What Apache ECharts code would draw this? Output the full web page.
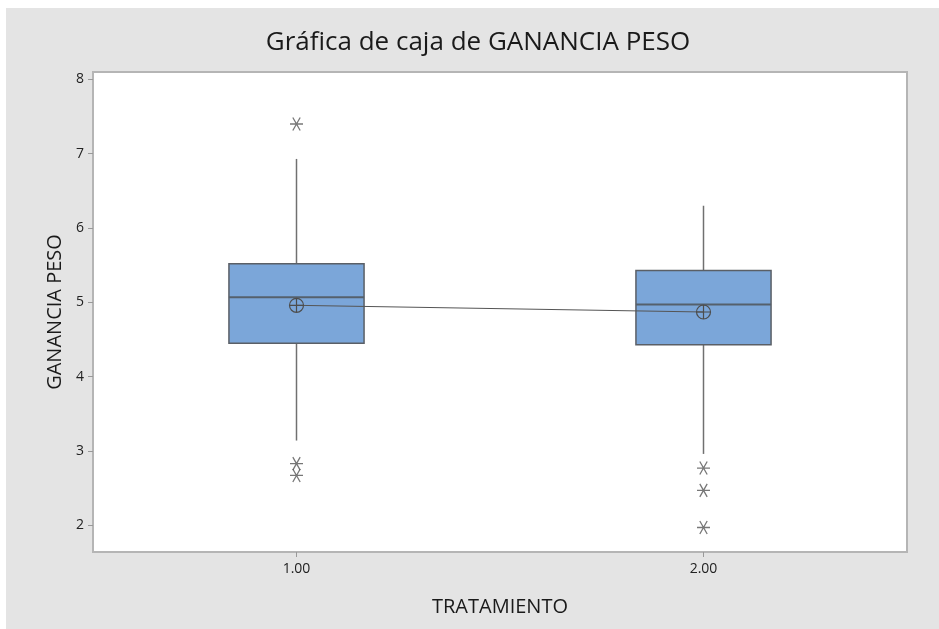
<!DOCTYPE html>
<html>
<head>
<meta charset="utf-8">
<script src="https://cdn.jsdelivr.net/npm/echarts@6/dist/echarts.min.js"></script>
<style>
  html, body { margin: 0; padding: 0; background: #fff; }
  #chart { position: absolute; left: 6px; top: 8px; width: 933px; height: 621px; }
</style>
</head>
<body>
<div id="chart"></div>
<script>
const chart = echarts.init(document.getElementById('chart'));

// values
const categories = ['1.00', '2.00'];
const whiskerLow = [3.14, 2.96];
const q1 = [4.45, 4.43];
const median = [5.07, 4.97];
const q3 = [5.52, 5.43];
const whiskerHigh = [6.93, 6.30];
const means = [4.96, 4.87];
const outliers1 = [7.40, 2.83, 2.67];
const outliers2 = [2.77, 2.47, 1.97];
const yTicks = [2, 3, 4, 5, 6, 7, 8];

const boxData = categories.map(function (c, i) {
  return [i, whiskerLow[i], q1[i], median[i], q3[i], whiskerHigh[i]];
});
const outlierData = [];
outliers1.forEach(function (v) { outlierData.push([0, v]); });
outliers2.forEach(function (v) { outlierData.push([1, v]); });

const font = '"Open Sans", "Noto Sans", sans-serif';

const option = {
  backgroundColor: '#e4e4e4',
  animation: false,
  title: {
    text: 'Gráfica de caja de GANANCIA PESO',
    left: 467,
    textAlign: 'center',
    top: 17,
    textStyle: { fontFamily: font, fontWeight: 'normal', fontSize: 26, color: '#1a1a1a' }
  },
  grid: {
    left: 87, top: 64, right: 32, bottom: 77,
    show: true,
    backgroundColor: '#fff',
    borderColor: '#b5b5b5',
    borderWidth: 2
  },
  xAxis: {
    type: 'category',
    data: categories,
    name: 'TRATAMIENTO',
    nameLocation: 'middle',
    nameGap: 45,
    nameTextStyle: { fontFamily: font, fontSize: 20, color: '#1a1a1a' },
    axisLine: { show: false },
    axisTick: { show: true, alignWithLabel: true, length: 5, lineStyle: { color: '#999' } },
    axisLabel: { fontFamily: font, fontSize: 14, color: '#222', margin: 10 },
    splitLine: { show: false }
  },
  yAxis: {
    type: 'value',
    min: 1.64,
    max: 8.1,
    name: 'GANANCIA PESO',
    nameLocation: 'middle',
    nameGap: 28,
    nameTextStyle: { fontFamily: font, fontSize: 20, color: '#1a1a1a' },
    axisLine: { show: false },
    axisTick: { show: true, length: 5, customValues: yTicks, lineStyle: { color: '#999' } },
    axisLabel: { fontFamily: font, fontSize: 14, color: '#222', margin: 9, customValues: yTicks },
    splitLine: { show: false }
  },
  series: [
    {
      type: 'custom',
      data: boxData,
      z: 2,
      renderItem: function (params, api) {
        const x = api.value(0);
        const half = api.size([1, 0])[0] * 0.166;
        const pLow = api.coord([x, api.value(1)]);
        const pQ1 = api.coord([x, api.value(2)]);
        const pMed = api.coord([x, api.value(3)]);
        const pQ3 = api.coord([x, api.value(4)]);
        const pHigh = api.coord([x, api.value(5)]);
        const whisker = { stroke: '#707070', lineWidth: 1.5 };
        return {
          type: 'group',
          children: [
            { type: 'line', shape: { x1: pQ3[0], y1: pQ3[1], x2: pHigh[0], y2: pHigh[1] }, style: whisker },
            { type: 'line', shape: { x1: pQ1[0], y1: pQ1[1], x2: pLow[0], y2: pLow[1] }, style: whisker },
            {
              type: 'rect',
              shape: { x: pQ3[0] - half, y: pQ3[1], width: half * 2, height: pQ1[1] - pQ3[1] },
              style: { fill: '#7ba6d9', stroke: '#5a5f66', lineWidth: 1.5 }
            },
            {
              type: 'line',
              shape: { x1: pMed[0] - half, y1: pMed[1], x2: pMed[0] + half, y2: pMed[1] },
              style: { stroke: '#55606c', lineWidth: 2 }
            }
          ]
        };
      }
    },
    {
      type: 'line',
      data: means,
      z: 3,
      symbol: 'path://M0,7A7,7,0,1,1,14,7A7,7,0,1,1,0,7Z M0,7L14,7 M7,0L7,14',
      symbolSize: 14,
      itemStyle: { color: 'rgba(0,0,0,0)', borderColor: '#4d4d4d', borderWidth: 1.2 },
      lineStyle: { color: '#555', width: 1 }
    },
    {
      type: 'scatter',
      data: outlierData,
      z: 3,
      symbol: 'path://M0,6L12,6 M2.6,1.5L9.4,10.5 M9.4,1.5L2.6,10.5',
      symbolSize: 13,
      itemStyle: { color: 'rgba(0,0,0,0)', borderColor: '#555', borderWidth: 1.3 }
    }
  ]
};

chart.setOption(option);
window.addEventListener('resize', function () { chart.resize(); });
</script>
</body>
</html>
